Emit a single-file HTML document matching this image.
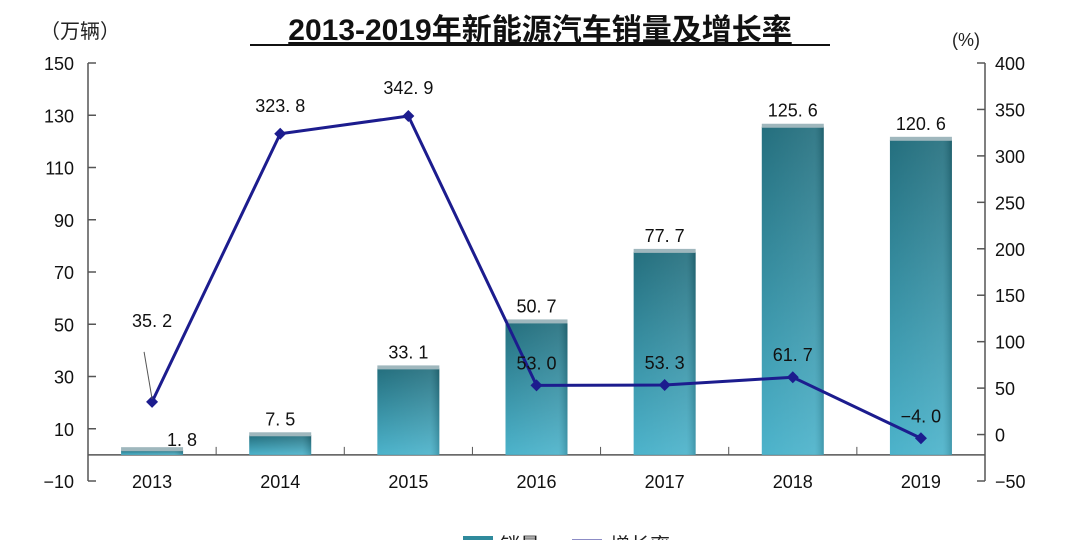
<!DOCTYPE html>
<html><head><meta charset="utf-8"><style>
body{margin:0;background:#fff;}
svg text{font-family:"Liberation Sans","Noto Sans CJK SC",sans-serif;}
</style></head><body>
<svg id="chart" width="1080" height="540" viewBox="0 0 1080 540" xmlns="http://www.w3.org/2000/svg">
<defs>
<linearGradient id="barg" x1="0" y1="0" x2="0" y2="1">
<stop offset="0" stop-color="#246f7e"/><stop offset="1" stop-color="#4cb3cb"/>
</linearGradient>
<linearGradient id="barh" x1="0" y1="0" x2="1" y2="0">
<stop offset="0" stop-color="#fff" stop-opacity="0"/><stop offset="0.85" stop-color="#fff" stop-opacity="0.08"/><stop offset="1" stop-color="#000" stop-opacity="0.15"/>
</linearGradient>
</defs>
<text x="540" y="40" text-anchor="middle" font-size="30" font-weight="bold" fill="#111" text-decoration="underline">2013-2019年新能源汽车销量及增长率</text>
<line x1="250" y1="45" x2="830" y2="45" stroke="#111" stroke-width="2"/>
<text x="40" y="38" font-size="20" fill="#222">（万辆）</text>
<text x="952" y="46" font-size="18" fill="#222">(%)</text>
<g id="axes"></g><g id="bars"></g><g id="line"></g>
<g>
<rect x="463" y="536" width="30" height="10" fill="#2f8a9c"/>
<text x="500" y="552" font-size="20" fill="#222">销量</text>
<line x1="572" y1="541" x2="602" y2="541" stroke="#1a1a8c" stroke-width="3"/>
<text x="610" y="552" font-size="20" fill="#222">增长率</text>
</g>
</svg>
<script>
const categories=["2013","2014","2015","2016","2017","2018","2019"];
const sales=[1.8,7.5,33.1,50.7,77.7,125.6,120.6];
const growth=[35.2,323.8,342.9,53.0,53.3,61.7,-4.0];
const leftTicks=[-10,10,30,50,70,90,110,130,150];
const rightTicks=[-50,0,50,100,150,200,250,300,350,400];
const NS="http://www.w3.org/2000/svg";
const X0=88,X1=985,YT=63,YB=481;
const yL=v=>YT+(150-v)*(YB-YT)/160;
const yR=v=>YT+(400-v)*(YB-YT)/450;
const band=(X1-X0)/categories.length;
const xC=i=>X0+band*(i+0.5);
function mk(tag,attrs,parent,txt){const e=document.createElementNS(NS,tag);for(const k in attrs)e.setAttribute(k,attrs[k]);if(txt!==undefined)e.textContent=txt;document.getElementById(parent).appendChild(e);return e;}
// axes
let e=mk('line',{x1:X0,y1:YT,x2:X0,y2:YB,stroke:'#555','stroke-width':1.5},'axes');


e=mk('line',{x1:X1,y1:YT,x2:X1,y2:YB,stroke:'#555','stroke-width':1.5},'axes');


e=mk('line',{x1:X0,y1:yL(0),x2:X1,y2:yL(0),stroke:'#555','stroke-width':1.5},'axes');


leftTicks.forEach(t=>{
 mk('line',{x1:X0,y1:yL(t),x2:X0+8,y2:yL(t),stroke:'#555','stroke-width':1.5},'axes');
 const l=mk('text',{x:X0-14,y:yL(t)+7,'text-anchor':'end','font-size':18,fill:'#111'},'axes',t<0?'\u2212'+(-t):String(t));
 
 
});
rightTicks.forEach(t=>{
 mk('line',{x1:X1-8,y1:yR(t),x2:X1,y2:yR(t),stroke:'#555','stroke-width':1.5},'axes');
 const l=mk('text',{x:X1+10,y:yR(t)+7,'font-size':18,fill:'#111'},'axes',t<0?'\u2212'+(-t):String(t));
 
 
});
categories.forEach((c,i)=>{
 if(i>0)mk('line',{x1:X0+band*i,y1:yL(0)-8,x2:X0+band*i,y2:yL(0),stroke:'#555','stroke-width':1},'axes');
 const l=mk('text',{x:xC(i),y:yL(0)+33,'text-anchor':'middle','font-size':18,fill:'#111'},'axes',c);
 
 
});
// bars
const bw=62;
sales.forEach((v,i)=>{
 const x=xC(i)-bw/2,y=yL(v),h=yL(0)-y;
 const b=mk('rect',{x:x,y:y,width:bw,height:h,fill:'url(#barg)'},'bars');
 
 
 mk('rect',{x:x,y:y,width:bw,height:h,fill:'url(#barh)'},'bars');
 mk('rect',{x:x,y:y-3,width:bw,height:4,fill:'#9fb7bd'},'bars');
 const l=mk('text',{x:xC(i)+ (i===0?30:0),y:i===0?y-4:y-10,'text-anchor':'middle','font-size':18,fill:'#111'},'bars',v.toFixed(1).replace('.','. '));
 
 
});
// line
const pts=growth.map((v,i)=>xC(i)+','+yR(v)).join(' ');
e=mk('polyline',{points:pts,fill:'none',stroke:'#1c1c8e','stroke-width':3},'line');


growth.forEach((v,i)=>{
 const cx=xC(i),cy=yR(v);
 const m=mk('polygon',{points:`${cx},${cy-6} ${cx+6},${cy} ${cx},${cy+6} ${cx-6},${cy}`,fill:'#1c1c8e'},'line');
 
 
 let lx=cx,ly=cy-22;
 if(i===0){ly=cy-75;mk('line',{x1:cx,y1:cy-3,x2:cx-8,y2:cy-50,stroke:'#555','stroke-width':1},'line');}
 if(i>=3&&i<=5){ly=cy-16;}
 if(i===6){ly=cy-16;}
 const s=(v<0?'\u2212'+(-v).toFixed(1):v.toFixed(1)).replace('.','. ');
 const l=mk('text',{x:lx,y:ly,'text-anchor':'middle','font-size':18,fill:'#111'},'line',s);
 
 
});
</script>
</body></html>
